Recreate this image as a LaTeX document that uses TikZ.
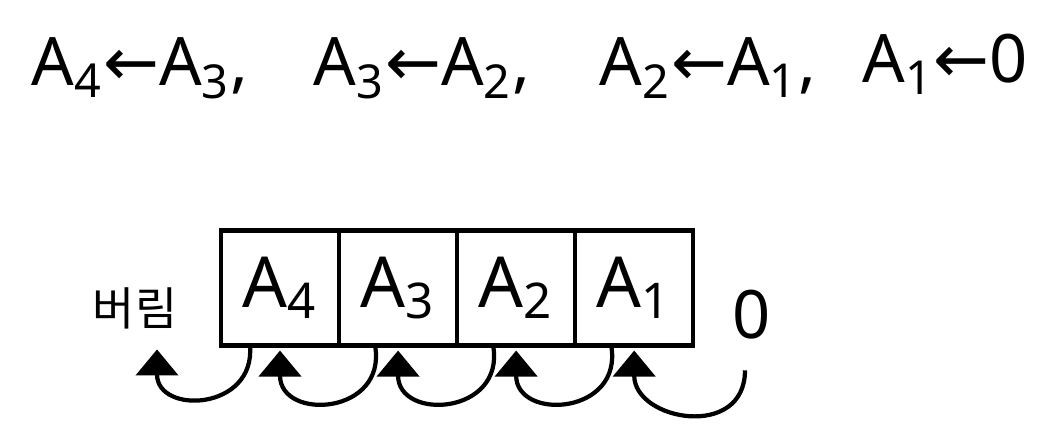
\documentclass[tikz,border=0pt]{standalone}
\usepackage{fontspec}
\setmainfont{Noto Sans}
\newfontfamily\arrowfont{DejaVu Sans}
\newfontfamily\korfont{Noto Sans CJK KR}
\usetikzlibrary{arrows.meta,positioning}

\begin{document}
\begin{tikzpicture}[
                x=0.01cm, y=0.01cm,
                eqn/.style={font=\fontsize{19}{22}\selectfont, inner sep=0pt},
                cell/.style={draw, line width=1.2pt, minimum width=1.18cm, minimum height=1.15cm, inner sep=0pt, outer sep=0pt, font=\fontsize{20}{24}\selectfont},
                shiftarr/.style={line width=1.2pt, -{Triangle[width=4.2mm, length=2.6mm]}},
            ]
            \useasboundingbox (0,0) rectangle (1040,-423);
            % --- 대입 순서 ---
            \node[eqn] (eqA) at (140,-68) {A\textsubscript{4}{\arrowfont ←}A\textsubscript{3},};
            \node[eqn] (eqB) at (422,-68) {A\textsubscript{3}{\arrowfont ←}A\textsubscript{2},};
            \node[eqn] (eqC) at (708,-68) {A\textsubscript{2}{\arrowfont ←}A\textsubscript{1},};
            \node[eqn] (eqD) at (945,-64) {A\textsubscript{1}{\arrowfont ←}0};
            % --- 칸 ---
            \node[cell] (cA4) at (280,-288) {A\textsubscript{4}};
            \node[cell, right=0pt of cA4] (cA3) {A\textsubscript{3}};
            \node[cell, right=0pt of cA3] (cA2) {A\textsubscript{2}};
            \node[cell, right=0pt of cA2] (cA1) {A\textsubscript{1}};
            \node[eqn] (zero) at (752,-315) {0};
            \node[inner sep=0pt, font=\korfont\fontsize{13}{15}\selectfont] (discard) at (135,-308) {버림};
            % --- 이동 화살표 ---
            \draw[shiftarr] ([xshift=-3mm]cA4.south) to[out=-85, in=-90, looseness=1.8] ([xshift=2.2mm, yshift=-2mm]discard.south);
            \foreach \s/\t in {cA3/cA4, cA2/cA3, cA1/cA2}
                \draw[shiftarr] ([xshift=-2.3mm]\s.south) to[out=-80, in=-90, looseness=1.9] ([yshift=-0.5mm]\t.south);
            \draw[shiftarr] ([xshift=-0.7mm, yshift=-3mm]zero.south) to[out=-90, in=-90, looseness=1.6] ([yshift=-0.5mm]cA1.south);
        \end{tikzpicture}
\end{document}
